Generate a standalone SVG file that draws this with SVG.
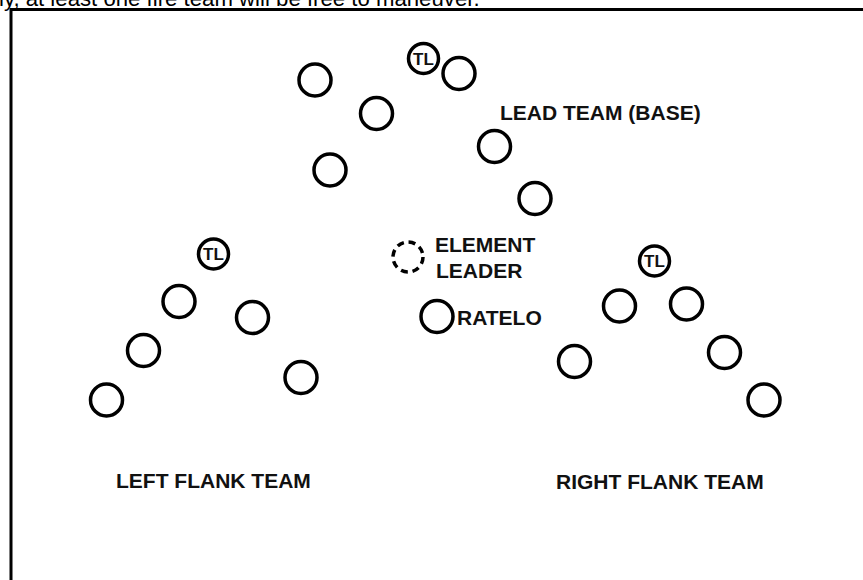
<svg xmlns="http://www.w3.org/2000/svg" width="863" height="580" viewBox="0 0 863 580">
<style>
.m{fill:#fff;stroke:#000;stroke-width:3.5}
.d{fill:#fff;stroke:#000;stroke-width:3.5;stroke-dasharray:7 4.8}
.tl{font-family:"Liberation Sans",Arial,sans-serif;font-weight:bold;font-size:17px;text-anchor:middle;fill:#111}
.lb{font-family:"Liberation Sans",Arial,sans-serif;font-weight:bold;font-size:21px;fill:#111}
.top{font-family:"Liberation Sans",Arial,sans-serif;font-size:22.2px;fill:#000}
</style>
<rect width="863" height="580" fill="#fff"/>
<text class="top" x="-1" y="6">ly, at least one fire team will be free to maneuver.</text>
<path d="M11,580 V9.5 H863" fill="none" stroke="#000" stroke-width="3"/>
<g id="connectors"></g>
<g id="lead-team">
<g id="lead-tl"><circle class="m" cx="423.5" cy="58.5" r="15"/><text class="tl" x="423.5" y="64.6">TL</text></g>
<g id="lead-1"><circle class="m" cx="315" cy="80" r="16"/></g>
<g id="lead-2"><circle class="m" cx="376.5" cy="113.5" r="16"/></g>
<g id="lead-3"><circle class="m" cx="459" cy="73.5" r="16"/></g>
<g id="lead-4"><circle class="m" cx="330" cy="170" r="16"/></g>
<g id="lead-5"><circle class="m" cx="494.5" cy="146.5" r="16"/></g>
<g id="lead-6"><circle class="m" cx="535" cy="198.5" r="16"/></g>
<text class="lb" x="500" y="119.5">LEAD TEAM (BASE)</text>
</g>
<g id="element-leader"><circle class="d" cx="408" cy="257" r="15"/><text class="lb" x="435" y="251.5">ELEMENT</text><text class="lb" x="436" y="278">LEADER</text></g>
<g id="ratelo"><circle class="m" cx="437" cy="316.5" r="16"/><text class="lb" x="457" y="325">RATELO</text></g>
<g id="left-team">
<g id="left-tl"><circle class="m" cx="213.5" cy="254" r="15"/><text class="tl" x="213.5" y="260.1">TL</text></g>
<g id="left-1"><circle class="m" cx="179" cy="301.5" r="16"/></g>
<g id="left-2"><circle class="m" cx="252.5" cy="317.5" r="16"/></g>
<g id="left-3"><circle class="m" cx="143.5" cy="350.5" r="16"/></g>
<g id="left-4"><circle class="m" cx="106.5" cy="400" r="16"/></g>
<g id="left-5"><circle class="m" cx="301" cy="377.5" r="16"/></g>
<text class="lb" x="116" y="487.5">LEFT FLANK TEAM</text>
</g>
<g id="right-team">
<g id="right-tl"><circle class="m" cx="654.5" cy="261" r="15"/><text class="tl" x="654.5" y="267.1">TL</text></g>
<g id="right-1"><circle class="m" cx="619.5" cy="306" r="16"/></g>
<g id="right-2"><circle class="m" cx="686.5" cy="304" r="16"/></g>
<g id="right-3"><circle class="m" cx="574.5" cy="361.5" r="16"/></g>
<g id="right-4"><circle class="m" cx="724.5" cy="352.5" r="16"/></g>
<g id="right-5"><circle class="m" cx="764" cy="400" r="16"/></g>
<text class="lb" x="556" y="488.5">RIGHT FLANK TEAM</text>
</g>
</svg>
